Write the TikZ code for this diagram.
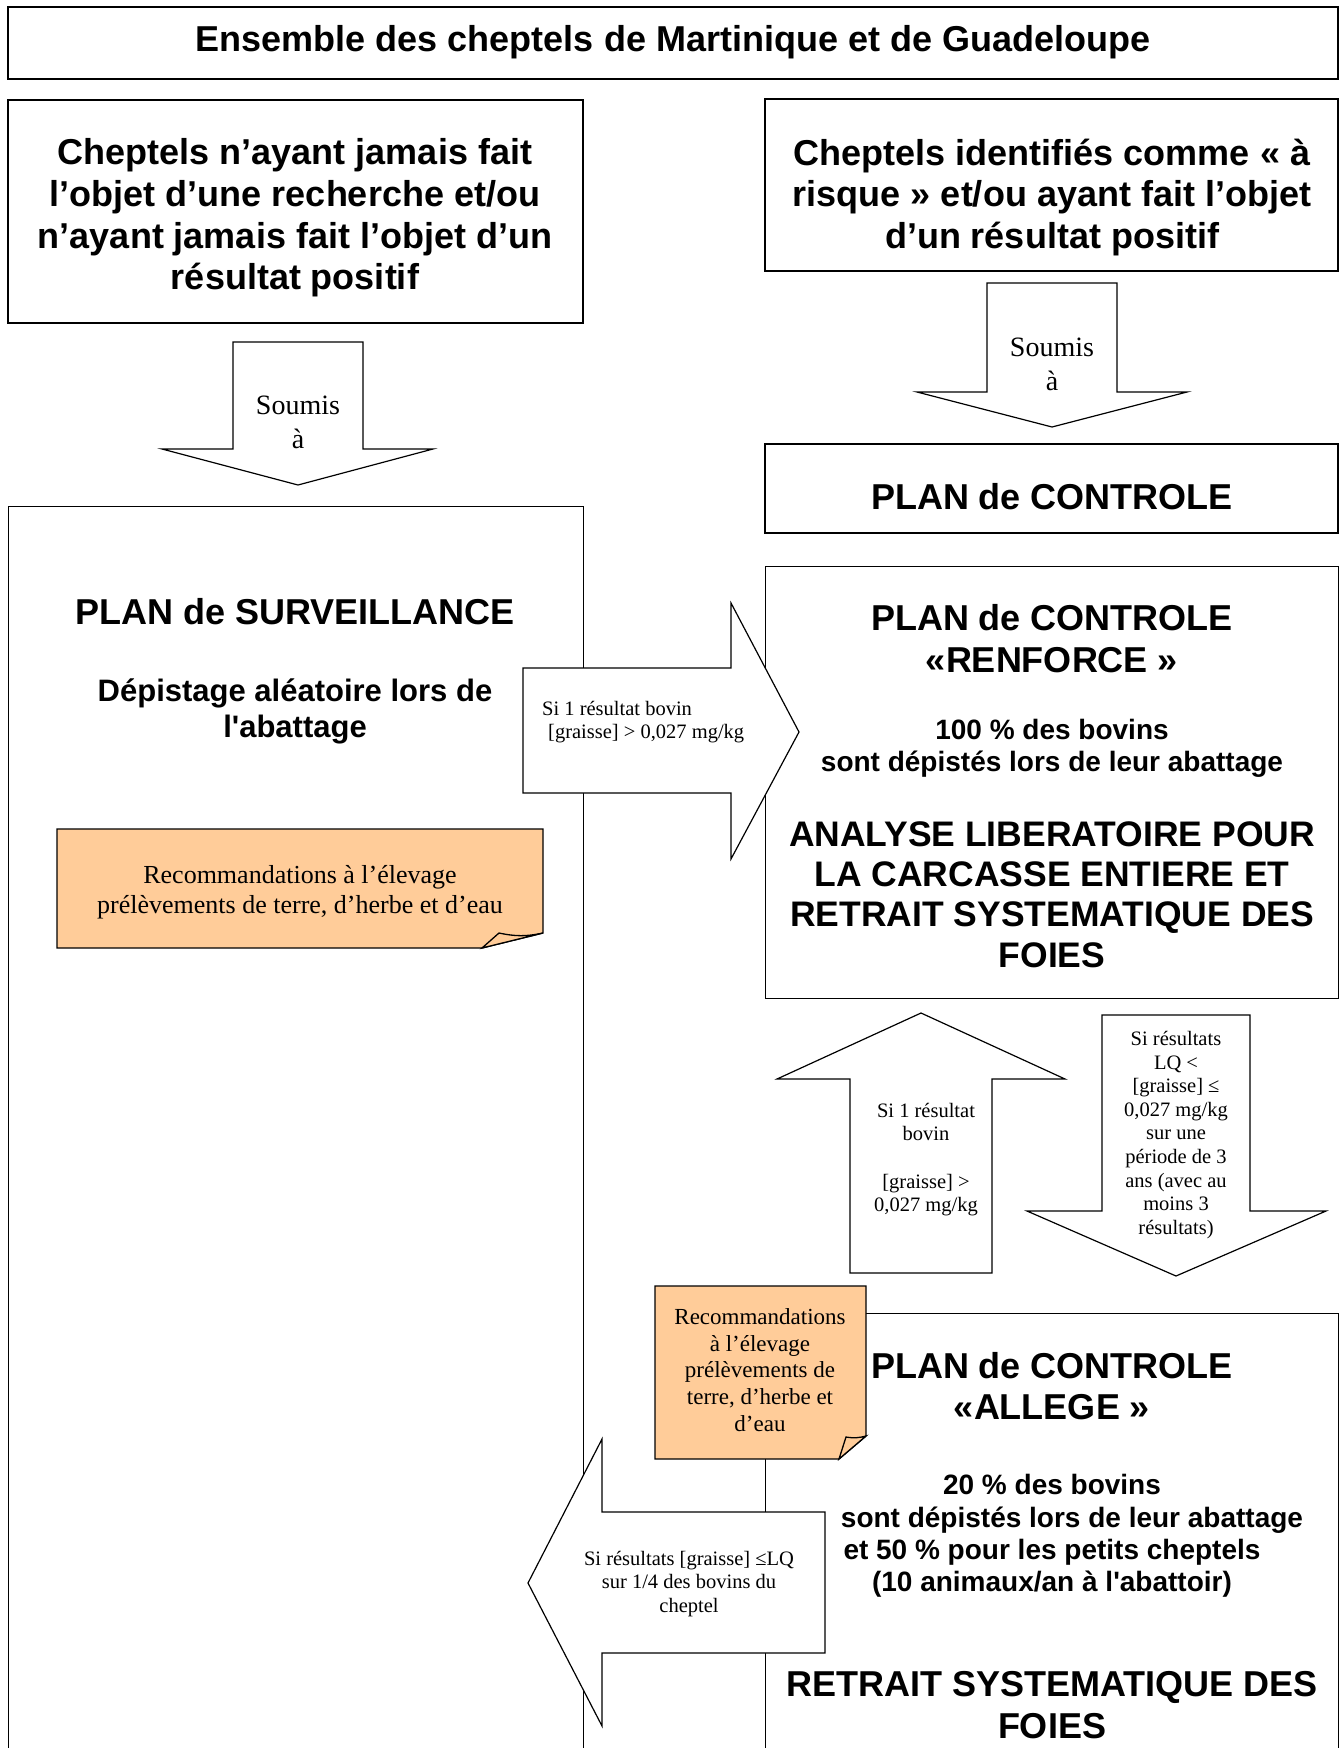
\documentclass[tikz,border=0pt]{standalone}
\usepackage{fontspec}
\setmainfont{Liberation Serif}
\setsansfont{Liberation Sans}
\definecolor{noteorange}{RGB}{255,204,153}

\begin{document}
\begin{tikzpicture}[x=1pt, y=-1pt,
    box/.style={draw, line width=1.4pt, fill=white, inner sep=0pt},
    barrow/.style={draw, line width=1.2pt, fill=white, line join=miter},
    note/.style={draw, line width=1.3pt, fill=noteorange},
    bigtxt/.style={font=\sffamily\bfseries\fontsize{36}{41.6}\selectfont,
        align=center, inner sep=0pt},
    headtxt/.style={bigtxt, font=\sffamily\bfseries\fontsize{31}{35.5}\selectfont},
    midtxt/.style={bigtxt, font=\sffamily\bfseries\fontsize{28}{32.2}\selectfont},
    soumis/.style={align=center, inner sep=0pt, font=\fontsize{28}{34}\selectfont},
    smalltxt/.style={align=center, inner sep=0pt, font=\fontsize{20.5}{23.6}\selectfont},
    notetxt/.style={align=center, inner sep=0pt, font=\fontsize{26}{30}\selectfont},
    ]

\clip (0,0) rectangle (1341,1748);

\node[box, minimum width=1330, minimum height=72] (title) at (673,43) {};
\node[bigtxt] (titletxt) at (673,42) {Ensemble des cheptels de Martinique et de Guadeloupe};

\node[box, minimum width=575, minimum height=223] (never) at (295.5,211.5) {};
\node[bigtxt] (nevertxt) at (295,218)
    {Cheptels n’ayant jamais fait\\l’objet d’une recherche et/ou\\n’ayant jamais fait l’objet d’un\\résultat positif};
\node[box, minimum width=573, minimum height=172] (risk) at (1051.5,185) {};
\node[bigtxt] (risktxt) at (1052,197.5)
    {Cheptels identifiés comme « à\\risque » et/ou ayant fait l’objet\\d’un résultat positif};

\draw[barrow] (233,342) -- (363,342) -- (363,449) -- (433,449) -- (298,485)
    -- (162,449) -- (233,449) -- cycle;
\node[soumis] (soumisL) at (298,422) {Soumis\\à};
\draw[barrow] (987,283) -- (1117,283) -- (1117,392) -- (1187,392) -- (1052,427)
    -- (917,392) -- (987,392) -- cycle;
\node[soumis] (soumisR) at (1052,364) {Soumis\\à};

\node[box, minimum width=573, minimum height=89] (ctrl) at (1051.5,488.5) {};
\node[bigtxt] (ctrltxt) at (1052,496.5) {PLAN de CONTROLE};

\node[box, anchor=north west, minimum width=575, minimum height=1300] (surv) at (8,506) {};
\node[bigtxt] (survtitle) at (295,612) {PLAN de SURVEILLANCE};
\node[headtxt] (survsub) at (295,711.5) {Dépistage aléatoire lors de\\l\textquotesingle abattage};

\node[box, anchor=north west, minimum width=573, minimum height=432] (renf) at (765,566) {};
\node[bigtxt] (renftitle) at (1052,638.5) {PLAN de CONTROLE\\«RENFORCE »};
\node[midtxt] (renfpct) at (1052,748.5) {100 \% des bovins\\sont dépistés lors de leur abattage};
\node[bigtxt, font=\sffamily\bfseries\fontsize{35.5}{40.3}\selectfont] (renfana) at (1052,894.5)
    {ANALYSE LIBERATOIRE POUR\\LA CARCASSE ENTIERE ET\\RETRAIT SYSTEMATIQUE DES\\FOIES};

\draw[barrow] (523,668) -- (731,668) -- (731,603) -- (799,732) -- (731,859)
    -- (731,793) -- (523,793) -- cycle;
\node[smalltxt, align=left, anchor=west] (renfcond) at (542,722)
    {Si 1 résultat bovin\\\hspace*{6pt}[graisse] > 0,027 mg/kg};

\draw[note] (57,829) -- (543,829) -- (543,933) -- (482,948) -- (57,948) -- cycle;
\draw[note] (482,948) -- (499,933) to[bend right=12] (543,933) -- cycle;
\node[notetxt] (reco1) at (300,892.5)
    {Recommandations à l’élevage\\prélèvements de terre, d’herbe et d’eau};

\draw[barrow] (921,1013) -- (1065,1079) -- (992,1079) -- (992,1273) -- (850,1273)
    -- (850,1079) -- (777,1079) -- cycle;
\node[smalltxt] (upcond) at (926,1159.5)
    {Si 1 résultat\\bovin\\\mbox{}\\{}[graisse] >\\0,027 mg/kg};
\draw[barrow] (1102,1015) -- (1250,1015) -- (1250,1211) -- (1326,1211) -- (1176,1276)
    -- (1027,1211) -- (1102,1211) -- cycle;
\node[smalltxt] (downcond) at (1176,1135)
    {Si résultats\\LQ <\\{}[graisse] ≤\\0,027 mg/kg\\sur une\\période de 3\\ans (avec au\\moins 3\\résultats)};

\node[box, anchor=north west, minimum width=573, minimum height=500] (allege) at (765,1313) {};
\node[bigtxt] (allgtitle) at (1052,1386) {PLAN de CONTROLE\\«ALLEGE »};
\node[midtxt] (allgpct) at (1052,1536)
    {20 \% des bovins\\\hspace*{40pt}sont dépistés lors de leur abattage\\et 50 \% pour les petits cheptels\\(10 animaux/an à l\textquotesingle abattoir)};
\node[bigtxt] (allgfoie) at (1052,1705) {RETRAIT SYSTEMATIQUE DES\\FOIES};

\draw[note] (655,1286) -- (866,1286) -- (866,1436) -- (839,1459) -- (655,1459) -- cycle;
\draw[note] (839,1459) -- (846,1437) to[bend right=12] (866,1436) -- cycle;
\node[notetxt, font=\fontsize{23}{26.7}\selectfont] (reco2) at (760,1370)
    {Recommandations\\à l’élevage\\prélèvements de\\terre, d’herbe et\\d’eau};

\draw[barrow] (528,1583) -- (602,1439) -- (602,1512) -- (825,1512) -- (825,1653)
    -- (602,1653) -- (602,1726) -- cycle;
\node[smalltxt] (backcond) at (689,1584)
    {Si résultats [graisse] ≤LQ\\sur 1/4 des bovins du\\cheptel};
\end{tikzpicture}
\end{document}
